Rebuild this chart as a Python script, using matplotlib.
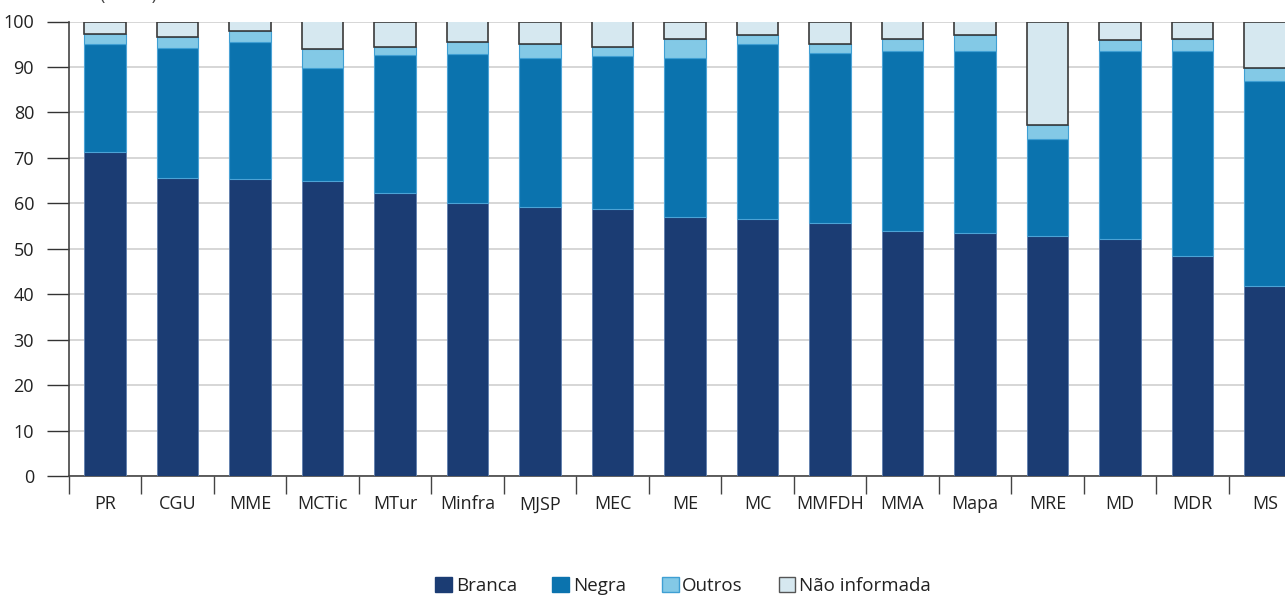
import numpy as np
import matplotlib.pyplot as plt
from matplotlib.patches import Patch

plt.rcParams['font.family'] = ['Open Sans', 'DejaVu Sans']

# orgaos e percentuais (Em %)
orgaos = ['PR', 'CGU', 'MME', 'MCTic', 'MTur', 'Minfra', 'MJSP', 'MEC', 'ME',
          'MC', 'MMFDH', 'MMA', 'Mapa', 'MRE', 'MD', 'MDR', 'MS']
branca = [71.3, 65.6, 65.3, 64.8, 62.2, 60.0, 59.1, 58.8, 56.9,
          56.6, 55.7, 53.8, 53.4, 52.7, 52.1, 48.4, 41.9]
negra = [23.7, 28.5, 30.1, 24.9, 30.4, 32.8, 32.8, 33.6, 35.0,
         38.4, 37.4, 39.8, 40.2, 21.4, 41.5, 45.0, 45.0]
outros = [2.2, 2.5, 2.5, 4.2, 1.7, 2.7, 3.1, 1.9, 4.2,
          2.0, 1.9, 2.5, 3.4, 3.2, 2.3, 2.7, 2.9]
nao_inf = [100 - (b + n + o) for b, n, o in zip(branca, negra, outros)]

c_branca = '#1b3c73'
c_negra = '#0b73ae'
c_outros = '#83c9e6'
c_ni = '#d6e8f0'

fig = plt.figure(figsize=(12.85, 5.95), dpi=100)
ax = fig.add_axes([68.75 / 1285, 1 - 476 / 595, 1 - 68.75 / 1285, (476 - 21.5) / 595])

x = np.arange(len(orgaos))
w = 0.575
b1 = np.array(branca)
b2 = b1 + np.array(negra)
b3 = b2 + np.array(outros)

ax.bar(x, branca, w, color=c_branca, edgecolor='#5f7fae', linewidth=0.6, zorder=3)
ax.bar(x, negra, w, bottom=b1, color=c_negra, edgecolor='#4ca3d6', linewidth=0.8, zorder=3)
ax.bar(x, outros, w, bottom=b2, color=c_outros, edgecolor='#3f9fd3', linewidth=0.8, zorder=3)
ax.bar(x, nao_inf, w, bottom=b3, color=c_ni, edgecolor='#3a3a3a', linewidth=1.2, zorder=4)

ax.set_yticks(np.arange(0, 101, 10))
ax.yaxis.grid(True, color='#cfcfcf', linewidth=1.2, zorder=0)
ax.set_axisbelow(True)

ax.set_xticks(x)
ax.set_xticklabels(orgaos, fontsize=13, color='#222222')
ax.set_xticks(np.arange(-0.5, len(orgaos), 1), minor=True)
ax.tick_params(axis='x', which='major', length=0, pad=14)
ax.tick_params(axis='x', which='minor', length=13, width=1, color='#444444')
ax.tick_params(axis='y', length=16, width=1, color='#333333', labelsize=13,
               labelcolor='#222222', pad=9)

# limits after the ticks, the chart is cut at the right edge
ax.set_ylim(0, 100)
ax.set_xlim(-0.5, (1285 - 105) / 72.5)

for s in ['top', 'right']:
    ax.spines[s].set_visible(False)
ax.spines['left'].set_color('#444444')
ax.spines['bottom'].set_color('#444444')
ax.spines['left'].set_linewidth(1.2)
ax.spines['bottom'].set_linewidth(1.2)

fig.text(100 / 1285, 1.0, '(Em %)', fontsize=13, color='#444444', va='baseline')

handles = [Patch(facecolor=c_branca, edgecolor=c_branca),
           Patch(facecolor=c_negra, edgecolor=c_negra),
           Patch(facecolor=c_outros, edgecolor='#3f9fd3'),
           Patch(facecolor=c_ni, edgecolor='#555555')]
labels = ['Branca', 'Negra', 'Outros', 'Não informada']
fig.legend(handles, labels, loc='lower center', bbox_to_anchor=(683 / 1285, -0.028),
           ncol=4, frameon=False, fontsize=13.5, handlelength=0.9, handleheight=0.9,
           handletextpad=0.2, columnspacing=1.9, labelcolor='#222222')

fig.savefig('out.png', dpi=100)
